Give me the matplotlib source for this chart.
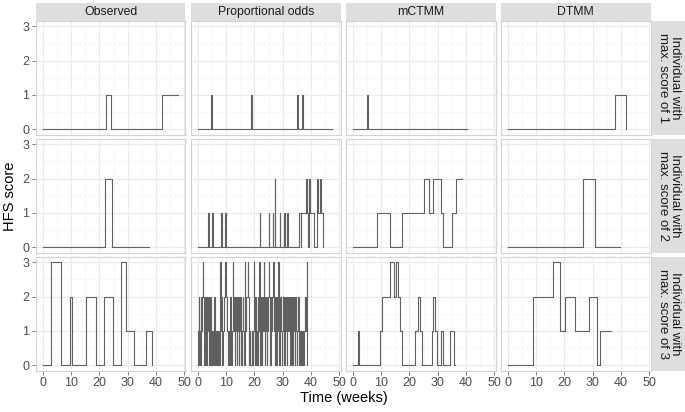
import matplotlib
matplotlib.use('Agg')
import matplotlib.pyplot as plt

plt.rcParams['font.family'] = ['Liberation Sans', 'DejaVu Sans']

# ---------------- data (time in weeks, HFS score) ----------------
models = ["Observed", "Proportional odds", "mCTMM", "DTMM"]
row_labels = ["Individual with\nmax. score of 1",
              "Individual with\nmax. score of 2",
              "Individual with\nmax. score of 3"]
x_ticks = [0, 10, 20, 30, 40, 50]
y_ticks = [0, 1, 2, 3]

obs_1 = [(0, 0), (22.2, 1), (24.2, 0), (42.2, 1), (47.8, 1)]
po_1 = [(0, 0), (4.6, 1), (4.9, 0), (18.9, 1), (19.2, 0), (35.0, 1), (35.3, 0),
        (36.9, 1), (37.2, 0), (47.5, 0)]
mctmm_1 = [(0, 0), (4.9, 1), (5.4, 0), (40.3, 0)]
dtmm_1 = [(0, 0), (37.9, 1), (41.7, 0)]

obs_2 = [(0, 0), (21.8, 2), (24.4, 0), (37.5, 0)]
po_2 = [(0, 0), (3.5, 1), (3.8, 0), (5.0, 1), (5.3, 0), (8.2, 1), (8.5, 0),
        (9.6, 1), (9.9, 0), (21.8, 1), (22.1, 0), (25.0, 1), (25.3, 0),
        (26.4, 1), (26.7, 0), (27.1, 2), (27.4, 0), (28.9, 1), (29.2, 0),
        (30.4, 1), (30.7, 0), (31.6, 1), (31.9, 0), (35.9, 1), (36.3, 0),
        (36.6, 1), (38.2, 2), (38.5, 1), (38.8, 0), (39.4, 2), (39.7, 1),
        (41.0, 0), (42.1, 2), (42.4, 1), (43.3, 2), (43.6, 1), (44.3, 0)]
mctmm_2 = [(0, 0), (8.7, 1), (13.2, 0), (17.3, 1), (25.1, 2), (27.0, 1),
           (28.5, 2), (31.1, 1), (32.0, 0), (35.0, 1), (36.5, 2), (38.4, 2)]
dtmm_2 = [(0, 0), (26.4, 2), (30.9, 0), (39.7, 0)]

obs_3 = [(0, 0), (3.0, 3), (6.4, 0), (9.7, 2), (10.3, 0), (15.4, 2), (18.9, 0),
         (21.7, 2), (24.7, 0), (27.6, 3), (29.3, 1), (32.3, 0), (36.3, 1),
         (38.4, 0), (38.6, 0)]
po_3 = [(0.0, 1), (0.2, 0), (0.4, 2), (0.6, 1), (0.8, 0), (1.0, 2), (1.2, 1),
        (1.4, 2), (1.8, 3), (2.0, 2), (2.2, 0), (2.4, 1), (2.6, 2), (2.8, 1),
        (3.0, 0), (3.2, 1), (3.4, 2), (3.6, 1), (3.9, 2), (4.1, 0), (4.3, 2),
        (4.5, 1), (4.7, 0), (5.0, 1), (5.2, 0), (5.4, 1), (5.6, 0), (5.8, 2),
        (6.0, 1), (6.2, 0), (6.4, 1), (6.6, 0), (6.8, 1), (7.0, 0), (7.2, 1),
        (7.5, 0), (7.9, 3), (8.1, 1), (8.3, 2), (8.6, 0), (9.0, 1), (9.2, 2),
        (9.6, 3), (9.8, 2), (10.2, 1), (10.6, 0), (11.0, 1), (11.2, 0),
        (11.4, 2), (11.6, 1), (11.8, 0), (12.0, 1), (12.4, 3), (12.6, 2),
        (12.8, 1), (13.0, 0), (13.2, 2), (13.4, 1), (13.6, 2), (13.8, 0),
        (14.0, 2), (14.2, 1), (14.4, 0), (14.6, 2), (14.8, 1), (15.0, 2),
        (15.2, 1), (15.4, 0), (15.6, 1), (15.8, 2), (16.0, 1), (16.2, 0),
        (16.6, 3), (16.8, 2), (17.0, 1), (17.2, 2), (17.6, 3), (17.8, 2),
        (18.0, 0), (18.2, 1), (18.6, 0), (19.0, 1), (19.2, 0), (19.4, 1),
        (19.7, 3), (19.9, 2), (20.1, 1), (20.3, 0), (20.5, 2), (20.7, 1),
        (20.9, 0), (21.1, 2), (21.3, 1), (21.6, 3), (21.8, 1), (22.0, 0),
        (22.2, 2), (22.4, 1), (22.6, 0), (22.8, 2), (23.0, 1), (23.3, 3),
        (23.5, 2), (23.7, 0), (23.9, 1), (24.1, 2), (24.3, 0), (24.5, 1),
        (24.7, 2), (25.1, 3), (25.3, 2), (25.5, 0), (25.7, 1), (25.9, 2),
        (26.1, 1), (26.3, 2), (26.7, 3), (26.9, 1), (27.1, 0), (27.3, 2),
        (27.5, 1), (27.7, 0), (27.9, 2), (28.1, 1), (28.4, 3), (28.6, 2),
        (28.8, 0), (29.0, 1), (29.2, 2), (29.4, 1), (29.6, 0), (29.8, 1),
        (30.0, 2), (30.2, 1), (30.4, 2), (30.6, 0), (30.8, 2), (31.0, 1),
        (31.2, 2), (31.4, 0), (31.6, 2), (31.8, 1), (32.0, 2), (32.2, 1),
        (32.4, 2), (32.6, 0), (32.8, 1), (33.0, 2), (33.2, 1), (33.4, 0),
        (33.6, 2), (33.8, 1), (34.0, 2), (34.2, 0), (34.4, 1), (34.6, 2),
        (34.8, 1), (35.0, 0), (35.2, 1), (35.4, 2), (35.6, 1), (35.8, 0),
        (36.0, 1), (36.2, 0), (36.4, 1), (36.6, 0), (36.8, 1), (37.0, 0),
        (37.4, 1), (37.8, 2), (38.0, 1), (38.2, 2), (38.4, 3), (38.6, 0)]
mctmm_3 = [(0, 0), (1.8, 1), (2.1, 0), (9.5, 1), (10.4, 2), (13.2, 3), (14.5, 2),
           (15.2, 3), (15.8, 2), (16.7, 1), (17.5, 0), (21.8, 1), (22.9, 2),
           (23.8, 1), (24.5, 0), (27.8, 1), (28.4, 2), (29.0, 1), (29.6, 0),
           (31.2, 1), (31.8, 0), (34.4, 1), (35.8, 0), (36.1, 0)]
dtmm_3 = [(0, 0), (8.8, 2), (15.8, 3), (18.5, 1), (20.1, 2), (23.7, 1),
          (28.7, 2), (31.4, 0), (32.5, 1), (36.6, 1)]

panels = [[obs_1, po_1, mctmm_1, dtmm_1],
          [obs_2, po_2, mctmm_2, dtmm_2],
          [obs_3, po_3, mctmm_3, dtmm_3]]

# ---------------- layout ----------------
W, H = 685, 412
fig = plt.figure(figsize=(W / 100, H / 100), dpi=100)
fig.patch.set_facecolor('white')

col_left = [36, 191, 346, 501]
pw = 149.5
row_top = [21, 139, 257]
ph = 113.5


def frac(x, y, w, h):
    return [x / W, 1 - (y + h) / H, w / W, h / H]


for r in range(3):
    for c in range(4):
        ax = fig.add_axes(frac(col_left[c], row_top[r], pw, ph))
        t, v = zip(*panels[r][c])
        ax.step(t, v, where='post', color='#606060', lw=0.8)
        ax.set_xlim(-2.4, 50.4)
        ax.set_ylim(-0.15, 3.15)
        ax.set_xticks(x_ticks)
        ax.set_xticks([5, 15, 25, 35, 45], minor=True)
        ax.set_yticks(y_ticks)
        ax.set_yticks([0.5, 1.5, 2.5], minor=True)
        ax.grid(which='major', color='#ebebeb', lw=0.8)
        ax.grid(which='minor', color='#f5f5f5', lw=0.5)
        ax.set_axisbelow(True)
        for s in ax.spines.values():
            s.set_color('#d3d3d3')
            s.set_linewidth(0.8)
        ax.tick_params(which='minor', length=0)
        ax.tick_params(which='major', length=3, width=0.6, color='#666666',
                       labelsize=9, labelcolor='#4d4d4d', pad=2)
        if c != 0:
            ax.tick_params(left=False, labelleft=False)
        if r != 2:
            ax.tick_params(bottom=False, labelbottom=False)

# top strips
for c in range(4):
    sa = fig.add_axes(frac(col_left[c], 3, pw, 17.5))
    sa.set_facecolor('#dedede')
    sa.set_xticks([]); sa.set_yticks([])
    for s in sa.spines.values():
        s.set_visible(False)
    sa.text(0.5, 0.5, models[c], ha='center', va='center', fontsize=8.8,
            color='#1a1a1a', transform=sa.transAxes)

# right strips
for r in range(3):
    sa = fig.add_axes(frac(652, row_top[r], 33, ph))
    sa.set_facecolor('#dedede')
    sa.set_xticks([]); sa.set_yticks([])
    for s in sa.spines.values():
        s.set_visible(False)
    sa.text(0.5, 0.5, row_labels[r], ha='center', va='center', fontsize=9.5,
            color='#1a1a1a', rotation=270, linespacing=1.0,
            transform=sa.transAxes)

fig.text(10 / W, 1 - 196 / H, 'HFS score', rotation=90, ha='center',
         va='center', fontsize=10.5, color='black')
fig.text(343.5 / W, 1 - 398 / H, 'Time (weeks)', ha='center', va='center',
         fontsize=10.5, color='black')

fig.savefig('out.png', dpi=100, facecolor='white')
